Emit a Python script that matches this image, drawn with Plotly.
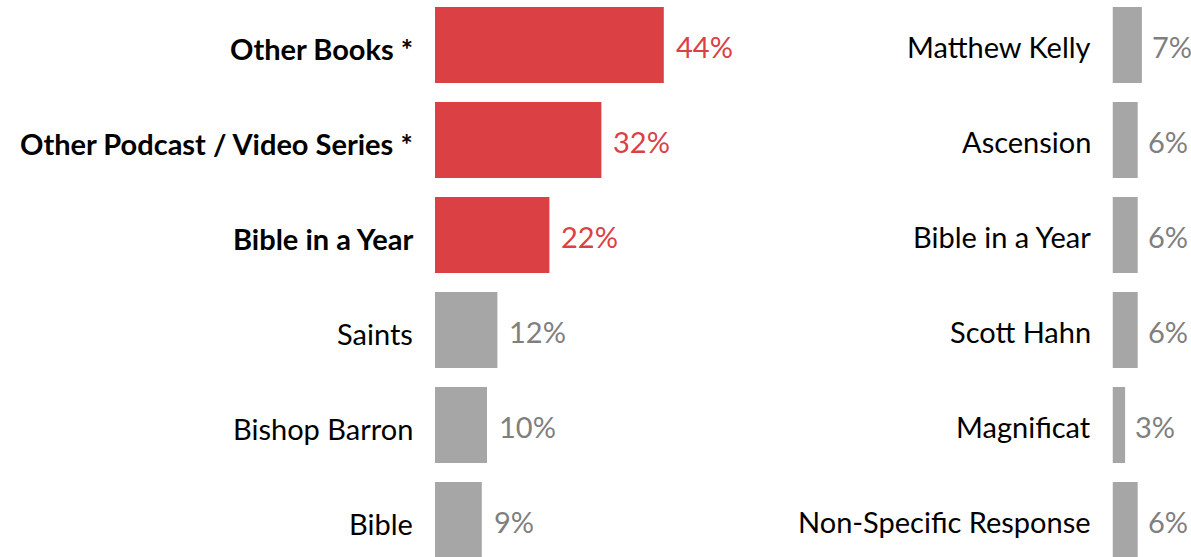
import plotly.graph_objects as go

# Left panel data
left_categories = ["Other Books *", "Other Podcast / Video Series *", "Bible in a Year",
                   "Saints", "Bishop Barron", "Bible"]
left_values = [44, 32, 22, 12, 10, 9]
left_highlight = [True, True, True, False, False, False]

# Right panel data
right_categories = ["Matthew Kelly", "Ascension", "Bible in a Year",
                    "Scott Hahn", "Magnificat", "Non-Specific Response"]
right_values = [7, 6, 6, 6, 3, 6]

RED = "#DB4144"
GREY_BAR = "#A6A6A6"
GREY_TXT = "#7F7F7F"
FONT = "Lato"
FS = 29

W, H = 1191, 557
ROW_PX = 95.0
first_center_px = 45.0
span = H / ROW_PX
top = -first_center_px / ROW_PX
yrange = [top + span, top]

fig = go.Figure()

left_colors = [RED if h else GREY_BAR for h in left_highlight]
fig.add_trace(go.Bar(
    y=left_categories, x=left_values, orientation="h",
    marker=dict(color=left_colors, line=dict(width=0)),
    width=0.8, xaxis="x", yaxis="y", showlegend=False, hoverinfo="skip",
))
fig.add_trace(go.Bar(
    y=right_categories, x=right_values, orientation="h",
    marker=dict(color=GREY_BAR, line=dict(width=0)),
    width=0.8, xaxis="x2", yaxis="y2", showlegend=False, hoverinfo="skip",
))

annotations = []
# category labels
for cat, h in zip(left_categories, left_highlight):
    annotations.append(dict(
        x=0, y=cat, xref="x", yref="y", text=f"<b>{cat}</b>" if h else cat,
        showarrow=False, xanchor="right", yanchor="middle", xshift=-20, yshift=-3,
        font=dict(family=FONT, size=FS, color="black"),
    ))
for cat in right_categories:
    annotations.append(dict(
        x=0, y=cat, xref="x2", yref="y2", text=cat,
        showarrow=False, xanchor="right", yanchor="middle", xshift=-20, yshift=-1,
        font=dict(family=FONT, size=FS, color="black"),
    ))
# value labels
for cat, v, h in zip(left_categories, left_values, left_highlight):
    annotations.append(dict(
        x=v, y=cat, xref="x", yref="y", text=f"{v}%", showarrow=False,
        xanchor="left", yanchor="middle", xshift=10, yshift=-1,
        font=dict(family=FONT, size=FS, color=RED if h else GREY_TXT),
    ))
for cat, v in zip(right_categories, right_values):
    annotations.append(dict(
        x=v, y=cat, xref="x2", yref="y2", text=f"{v}%", showarrow=False,
        xanchor="left", yanchor="middle", xshift=8, yshift=-1,
        font=dict(family=FONT, size=FS, color=GREY_TXT),
    ))

LEFT0 = 435.0
LEFT_END = 780.0
PX_PER_PCT_L = 5.2
RIGHT0 = 1112.5
PX_PER_PCT_R = 4.2

fig.update_layout(
    width=W, height=H,
    margin=dict(l=0, r=0, t=0, b=0),
    paper_bgcolor="white", plot_bgcolor="rgba(0,0,0,0)",
    bargap=0.2,
    font=dict(family=FONT, size=FS, color="black"),
    annotations=annotations,
    xaxis=dict(domain=[LEFT0 / W, LEFT_END / W],
               range=[0, (LEFT_END - LEFT0) / PX_PER_PCT_L],
               visible=False, fixedrange=True),
    yaxis=dict(domain=[0, 1], range=yrange, type="category",
               categoryorder="array", categoryarray=left_categories,
               showticklabels=False, showgrid=False, zeroline=False,
               showline=False, ticks="", automargin=False, fixedrange=True),
    xaxis2=dict(domain=[RIGHT0 / W, 1],
                range=[0, (W - RIGHT0) / PX_PER_PCT_R],
                visible=False, fixedrange=True),
    yaxis2=dict(domain=[0, 1], range=yrange, type="category", anchor="x2",
                categoryorder="array", categoryarray=right_categories,
                showticklabels=False, showgrid=False, zeroline=False,
                showline=False, ticks="", automargin=False, fixedrange=True),
)

fig.write_html("out.html", config={"displayModeBar": False},
               post_script="document.body.style.margin='0px';")
